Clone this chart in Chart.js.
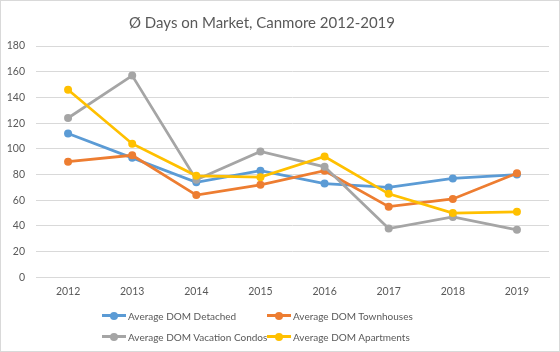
<!DOCTYPE html>
<html>
<head>
<meta charset="utf-8">
<script src="https://cdn.jsdelivr.net/npm/chart.js@4.4.1/dist/chart.umd.min.js"></script>
<style>
    html, body { margin: 0; padding: 0; background: #fff; }
    #wrap {
        position: relative;
        width: 560px;
        height: 352px;
        box-sizing: border-box;
        border: 1px solid #d9d9d9;
        font-family: Lato, "Liberation Sans", sans-serif;
        color: #595959;
    }
    #wrap canvas { position: absolute; left: 0; top: 0; }
    #title {
        position: absolute;
        left: 0;
        width: 522px;
        top: 10px;
        text-align: center;
        font-size: 15px;
        line-height: 22px;
    }
    #legend {
        position: absolute;
        left: 101px;
        top: 307px;
        display: grid;
        grid-template-columns: 165px 165px;
        row-gap: 6px;
        font-size: 10px;
    }
    .item { display: flex; align-items: center; height: 15px; white-space: nowrap; }
    .sym { position: relative; flex-shrink: 0; width: 24px; height: 15px; margin-right: 2px; }
    .sym .ln { position: absolute; left: 0; right: 0; top: 6px; height: 3px; }
    .sym .dot { position: absolute; left: 8px; top: 3.5px; width: 8px; height: 8px; border-radius: 50%; }
</style>
</head>
<body>
<div id="wrap">
    <canvas id="chart" width="558" height="350"></canvas>
    <div id="title">Ø Days on Market, Canmore 2012-2019</div>
    <div id="legend"></div>
</div>
<script>
// years on the x axis
const years = ["2012", "2013", "2014", "2015", "2016", "2017", "2018", "2019"];

// average days on market per property type
const detached = [112, 93, 74, 83, 73, 70, 77, 80];
const townhouses = [90, 95, 64, 72, 83, 55, 61, 81];
const vacationCondos = [124, 157, 76, 98, 86, 38, 47, 37];
const apartments = [146, 104, 79, 78, 94, 65, 50, 51];

const seriesNames = ["Average DOM Detached", "Average DOM Townhouses", "Average DOM Vacation Condos", "Average DOM Apartments"];
const seriesColors = ["#5b9bd5", "#ed7d31", "#a5a5a5", "#ffc000"];
const seriesData = [detached, townhouses, vacationCondos, apartments];

const gridColor = "#d9d9d9";
const tickFont = { family: "Lato", size: 10.5 };

function makeDataset(i) {
    return {
        label: seriesNames[i],
        data: seriesData[i],
        borderColor: seriesColors[i],
        backgroundColor: seriesColors[i],
        borderWidth: 2.75,
        pointRadius: 4,
        pointBorderWidth: 0,
        pointHoverRadius: 4,
        tension: 0,
        order: seriesNames.length - i, // later series drawn on top
    };
}

const datasets = seriesNames.map((name, i) => makeDataset(i));

new Chart(document.getElementById("chart"), {
    type: "line",
    data: { labels: years, datasets: datasets },
    options: {
        responsive: false,
        animation: false,
        layout: { padding: { left: 2, right: 10, top: 45, bottom: 53 } },
        plugins: {
            legend: { display: false },
            tooltip: { enabled: false },
        },
        scales: {
            x: {
                offset: true,
                grid: { display: false },
                border: { display: true, color: gridColor, width: 1 },
                ticks: { color: "#595959", font: tickFont, padding: 0 },
            },
            y: {
                min: 0,
                max: 180,
                grid: { color: gridColor, drawTicks: false },
                border: { display: false },
                ticks: { stepSize: 20, color: "#595959", font: tickFont, padding: 11 },
                afterFit: (scale) => { scale.width = 33; },
            },
        },
    },
});

// legend in two columns like the original
const legend = document.getElementById("legend");
for (let i = 0; i < seriesNames.length; i++) {
    legend.insertAdjacentHTML("beforeend",
        `<div class="item"><div class="sym"><div class="ln" style="background:${seriesColors[i]}"></div>` +
        `<div class="dot" style="background:${seriesColors[i]}"></div></div>${seriesNames[i]}</div>`);
}
</script>
</body>
</html>
